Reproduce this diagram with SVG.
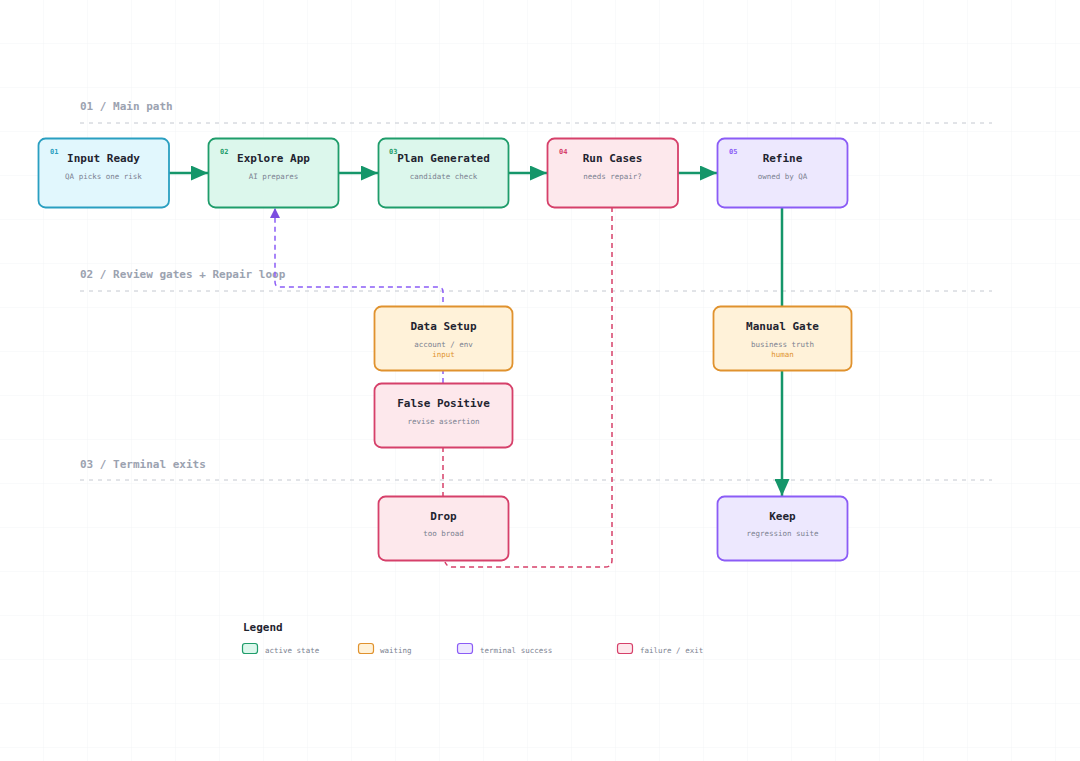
<svg xmlns="http://www.w3.org/2000/svg" width="1080" height="761" viewBox="0 0 1080 761">
<defs>
<pattern id="grid" width="44" height="44" patternUnits="userSpaceOnUse" x="0" y="0">
<path d="M44 0V44M0 44H44" fill="none" stroke="#f3f4f6" stroke-width="1"/>
</pattern>
<marker id="ag" viewBox="0 0 17 15" refX="17" refY="7.5" markerWidth="17" markerHeight="15" markerUnits="userSpaceOnUse" orient="auto">
<path d="M0 0L17 7.5L0 15Z" fill="#15966a"/>
</marker>
<marker id="ap" viewBox="0 0 10 10" refX="10" refY="5" markerWidth="10" markerHeight="10" markerUnits="userSpaceOnUse" orient="auto">
<path d="M0 0L10 5L0 10Z" fill="#7c4ddf"/>
</marker>
</defs>
<style>
.t{font-family:"DejaVu Sans Mono","Liberation Mono",monospace;font-weight:bold;font-size:11px;fill:#1f2430;text-anchor:middle}
.s{font-family:"DejaVu Sans Mono","Liberation Mono",monospace;font-size:7.5px;fill:#7b8190;text-anchor:middle}
.n{font-family:"DejaVu Sans Mono","Liberation Mono",monospace;font-size:7.5px;fill:#e0922e;text-anchor:middle}
.i{font-family:"DejaVu Sans Mono","Liberation Mono",monospace;font-size:7px;font-weight:bold}
.sec{font-family:"DejaVu Sans Mono","Liberation Mono",monospace;font-size:11px;font-weight:bold;fill:#9ba2b0}
.sl{stroke:#c4c8d0;stroke-width:1;stroke-dasharray:4 5;fill:none}
.lg{font-family:"DejaVu Sans Mono","Liberation Mono",monospace;font-size:7.5px;fill:#7b8190}
.cyan{fill:#e1f7fd;stroke:#2a9fc1;stroke-width:1.8}
.green{fill:#dcf7ec;stroke:#1f9d6b;stroke-width:1.8}
.red{fill:#fde8ec;stroke:#d6406a;stroke-width:1.8}
.purple{fill:#ede8fe;stroke:#8b5cf6;stroke-width:1.8}
.orange{fill:#fff2d9;stroke:#e0922e;stroke-width:1.8}
.eg{fill:none;stroke:#15966a;stroke-width:2.5}
.ep{fill:none;stroke:#8b5cf6;stroke-width:1.5;stroke-dasharray:5 4}
.er{fill:none;stroke:#d6406a;stroke-width:1.5;stroke-dasharray:5 4}
</style>
<rect width="1080" height="761" fill="#ffffff"/>
<rect width="1080" height="761" fill="url(#grid)"/>

<g id="sections">
<text class="sec" x="80" y="110">01 / Main path</text>
<path class="sl" d="M80 123H992"/>
<text class="sec" x="80" y="278">02 / Review gates + Repair loop</text>
<path class="sl" d="M80 291H992"/>
<text class="sec" x="80" y="468">03 / Terminal exits</text>
<path class="sl" d="M80 480H992"/>
</g>

<g id="connectors">
<path class="eg" d="M169 173H208" marker-end="url(#ag)"/>
<path class="eg" d="M338 173H378" marker-end="url(#ag)"/>
<path class="eg" d="M508 173H547" marker-end="url(#ag)"/>
<path class="eg" d="M678 173H717" marker-end="url(#ag)"/>
<path class="eg" d="M782 207V496" marker-end="url(#ag)"/>
<path class="ep" d="M443 383V292Q443 287 438 287H280Q275 287 275 282V208" marker-end="url(#ap)"/>
<path class="er" d="M443 447V496"/>
<path class="er" d="M612 207V560Q612 567 605 567H452Q447 567 445 562"/>
</g>

<g id="n01">
<rect class="cyan" x="38.5" y="138.5" width="130.5" height="69" rx="7"/>
<text class="i" x="50" y="154" fill="#2a9fc1">01</text>
<text class="t" x="103.5" y="162">Input Ready</text>
<text class="s" x="103.5" y="179">QA picks one risk</text>
</g>
<g id="n02">
<rect class="green" x="208.5" y="138.5" width="130" height="69" rx="7"/>
<text class="i" x="220" y="154" fill="#1f9d6b">02</text>
<text class="t" x="273.5" y="162">Explore App</text>
<text class="s" x="273.5" y="179">AI prepares</text>
</g>
<g id="n03">
<rect class="green" x="378.5" y="138.5" width="130" height="69" rx="7"/>
<text class="i" x="389" y="154" fill="#1f9d6b">03</text>
<text class="t" x="443.5" y="162">Plan Generated</text>
<text class="s" x="443.5" y="179">candidate check</text>
</g>
<g id="n04">
<rect class="red" x="547.5" y="138.5" width="130.5" height="69" rx="7"/>
<text class="i" x="559" y="154" fill="#d6406a">04</text>
<text class="t" x="612.5" y="162">Run Cases</text>
<text class="s" x="612.5" y="179">needs repair?</text>
</g>
<g id="n05">
<rect class="purple" x="717.5" y="138.5" width="130" height="69" rx="7"/>
<text class="i" x="729" y="154" fill="#8b5cf6">05</text>
<text class="t" x="782.5" y="162">Refine</text>
<text class="s" x="782.5" y="179">owned by QA</text>
</g>
<g id="data-setup">
<rect class="orange" x="374.5" y="306.5" width="138" height="64" rx="7"/>
<text class="t" x="443.5" y="330">Data Setup</text>
<text class="s" x="443.5" y="347">account / env</text>
<text class="n" x="443.5" y="357">input</text>
</g>
<g id="false-positive">
<rect class="red" x="374.5" y="383.5" width="138" height="64" rx="7"/>
<text class="t" x="443.5" y="407">False Positive</text>
<text class="s" x="443.5" y="424">revise assertion</text>
</g>
<g id="manual-gate">
<rect class="orange" x="713.5" y="306.5" width="138" height="64" rx="7"/>
<text class="t" x="782.5" y="330">Manual Gate</text>
<text class="s" x="782.5" y="347">business truth</text>
<text class="n" x="782.5" y="357">human</text>
</g>
<g id="drop">
<rect class="red" x="378.5" y="496.5" width="130" height="64" rx="7"/>
<text class="t" x="443.5" y="520">Drop</text>
<text class="s" x="443.5" y="536">too broad</text>
</g>
<g id="keep">
<rect class="purple" x="717.5" y="496.5" width="130" height="64" rx="7"/>
<text class="t" x="782.5" y="520">Keep</text>
<text class="s" x="782.5" y="536">regression suite</text>
</g>

<g id="legend">
<text class="t" x="243" y="631" style="text-anchor:start">Legend</text>
<rect class="green" x="242.5" y="643.5" width="15" height="10" rx="2.5" style="stroke-width:1.2"/>
<text class="lg" x="265" y="653">active state</text>
<rect class="orange" x="358.5" y="643.5" width="15" height="10" rx="2.5" style="stroke-width:1.2"/>
<text class="lg" x="380" y="653">waiting</text>
<rect class="purple" x="457.5" y="643.5" width="15" height="10" rx="2.5" style="stroke-width:1.2"/>
<text class="lg" x="480" y="653">terminal success</text>
<rect class="red" x="617.5" y="643.5" width="15" height="10" rx="2.5" style="stroke-width:1.2"/>
<text class="lg" x="640" y="653">failure / exit</text>
</g>
</svg>
